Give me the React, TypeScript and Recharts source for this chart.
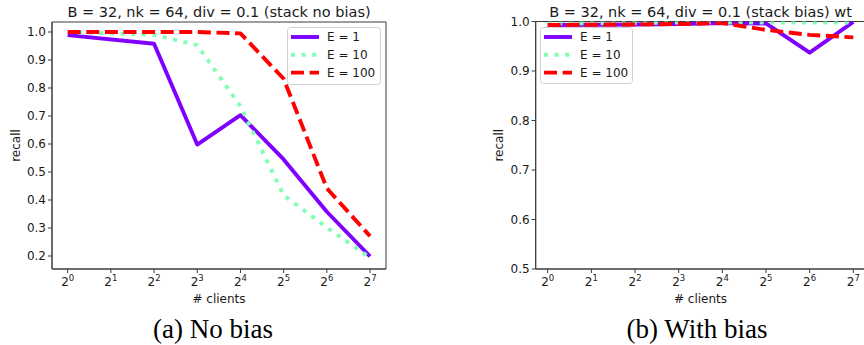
import React from "react";
import {
  LineChart,
  Line,
  XAxis,
  YAxis,
  ReferenceArea,
  Legend,
  Label,
} from "recharts";

// ---------- data ----------
const clients = [1, 4, 8, 16, 32, 64, 128];
const xTickExponents = [0, 1, 2, 3, 4, 5, 6, 7];

const noBiasE1 = [0.989, 0.958, 0.598, 0.703, 0.545, 0.358, 0.199];
const noBiasE10 = [1.0, 0.99, 0.953, 0.735, 0.417, 0.302, 0.194];
const noBiasE100 = [1.0, 1.0, 1.0, 0.995, 0.833, 0.442, 0.271];

const biasE1 = [0.993, 0.994, 0.995, 0.997, 0.996, 0.937, 0.999];
const biasE10 = [0.996, 0.997, 0.998, 0.998, 0.998, 0.998, 0.998];
const biasE100 = [0.993, 0.994, 0.995, 0.997, 0.983, 0.973, 0.968];

const yTicksLeft = [0.2, 0.3, 0.4, 0.5, 0.6, 0.7, 0.8, 0.9, 1.0];
const yTicksRight = [0.5, 0.6, 0.7, 0.8, 0.9, 1.0];

const titleLeft = "B = 32, nk = 64, div = 0.1 (stack no bias)";
const titleRight = "B = 32, nk = 64, div = 0.1 (stack bias) wt";
const captionLeft = "(a) No bias";
const captionRight = "(b) With bias";
const xLabel = "# clients";
const yLabel = "recall";

const seriesNames = ["E = 1", "E = 10", "E = 100"];
const seriesKeys = ["e1", "e10", "e100"];
const seriesColors = ["#8000ff", "#80ffb4", "#ff0000"];
const seriesDash = [undefined, "4 6.6", "13 5.6"];

const buildTable = (a: number[], b: number[], c: number[]) =>
  clients.map((n, i) => ({ x: Math.log2(n), e1: a[i], e10: b[i], e100: c[i] }));

const leftData = buildTable(noBiasE1, noBiasE10, noBiasE100);
const rightData = buildTable(biasE1, biasE10, biasE100);

const FONT = "DejaVu Sans";
const TXT = "#1a1a1a";
const SPINE = "#3a3a3a";
const LW = 3.9;

const PowTick = (props: any) => {
  const { x, y, payload } = props;
  return (
    <text
      x={x}
      y={y}
      dy={11}
      textAnchor="middle"
      fontFamily={FONT}
      fontSize={12}
      fill={TXT}
    >
      <tspan>2</tspan>
      <tspan dy={-5} fontSize={8.5}>
        {String(payload.value)}
      </tspan>
    </text>
  );
};

const LegendBox = ({ width, height }: { width: number; height: number }) => (
  <svg width={width} height={height} style={{ display: "block" }}>
    <rect
      x={0.5}
      y={0.5}
      width={width - 1}
      height={height - 1}
      rx={3}
      ry={3}
      fill="#ffffff"
      fillOpacity={0.8}
      stroke="#d0d0d0"
      strokeWidth={1}
    />
    {seriesNames.map((name, i) => {
      const cy = 10 + i * 17.8;
      return (
        <g key={name}>
          <line
            x1={4}
            x2={32}
            y1={cy}
            y2={cy}
            stroke={seriesColors[i]}
            strokeWidth={LW}
            strokeDasharray={seriesDash[i]}
          />
          <text
            x={40}
            y={cy + 4.3}
            fontFamily={FONT}
            fontSize={12}
            fill={TXT}
          >
            {name}
          </text>
        </g>
      );
    })}
  </svg>
);

type PanelProps = {
  data: any[];
  left: number;
  width: number;
  height: number;
  margin: { top: number; right: number; bottom: number; left: number };
  yAxisWidth: number;
  yLabelX: number;
  xDomain: [number, number];
  yDomain: [number, number];
  yTicks: number[];
  title: string;
  legendPos: { left: number; top: number; width: number; height: number };
};

const Panel = (p: PanelProps) => (
  <div style={{ position: "absolute", left: p.left, top: 0 }}>
    <LineChart width={p.width} height={p.height} data={p.data} margin={p.margin}>
      <XAxis
        type="number"
        dataKey="x"
        domain={p.xDomain}
        ticks={xTickExponents}
        allowDataOverflow
        tick={<PowTick />}
        tickSize={4}
        tickMargin={2}
        height={31}
        stroke={SPINE}
        tickLine={{ stroke: SPINE }}
        axisLine={{ stroke: SPINE }}
        interval={0}
      >
        <Label
          value={xLabel}
          position="insideBottom"
          offset={-3}
          style={{ fontFamily: FONT, fontSize: 12, fill: TXT }}
        />
      </XAxis>
      <YAxis
        type="number"
        domain={p.yDomain}
        ticks={p.yTicks}
        allowDataOverflow
        width={p.yAxisWidth}
        tickFormatter={(v: number) => v.toFixed(1)}
        tick={{ fontFamily: FONT, fontSize: 12, fill: TXT }}
        tickSize={4}
        tickMargin={2}
        stroke={SPINE}
        tickLine={{ stroke: SPINE }}
        axisLine={{ stroke: SPINE }}
        interval={0}
      >
        <Label
          value={yLabel}
          angle={-90}
          position="insideLeft"
          offset={p.yLabelX}
          style={{ fontFamily: FONT, fontSize: 12, fill: TXT, textAnchor: "middle" }}
        />
      </YAxis>
      <ReferenceArea
        x1={p.xDomain[0]}
        x2={p.xDomain[1]}
        y1={p.yDomain[0]}
        y2={p.yDomain[1]}
        fill="none"
        stroke={SPINE}
        strokeWidth={1}
        ifOverflow="visible"
      >
        <Label
          value={p.title}
          position="top"
          offset={5}
          style={{ fontFamily: FONT, fontSize: 14.5, fill: TXT }}
        />
      </ReferenceArea>
      {seriesKeys.map((k, i) => (
        <Line
          key={k}
          type="linear"
          dataKey={k}
          name={seriesNames[i]}
          stroke={seriesColors[i]}
          strokeWidth={LW}
          strokeDasharray={seriesDash[i]}
          strokeLinecap="butt"
          strokeLinejoin="round"
          dot={false}
          activeDot={false}
          isAnimationActive={false}
        />
      ))}
      <Legend
        layout="horizontal"
        verticalAlign="middle"
        align="center"
        wrapperStyle={{
          position: "absolute",
          left: p.legendPos.left,
          top: p.legendPos.top,
          width: p.legendPos.width,
          height: p.legendPos.height,
          margin: 0,
          padding: 0,
        }}
        content={() => (
          <LegendBox width={p.legendPos.width} height={p.legendPos.height} />
        )}
      />
    </LineChart>
  </div>
);

const captionStyle: React.CSSProperties = {
  position: "absolute",
  width: 240,
  top: 314,
  textAlign: "center",
  fontFamily: "Liberation Serif",
  fontSize: 27,
  lineHeight: "30px",
  color: "#000",
  whiteSpace: "nowrap",
};

export default function App() {
  return (
    <div
      style={{
        position: "absolute",
        left: 0,
        top: 0,
        width: 864,
        height: 345,
        overflow: "hidden",
        background: "#ffffff",
      }}
    >
      <Panel
        data={leftData}
        left={0}
        width={400}
        height={310}
        margin={{ top: 22, right: 14, bottom: 10, left: 0 }}
        yAxisWidth={52}
        yLabelX={16}
        xDomain={[-0.363, 7.37]}
        yDomain={[0.1536, 1.0357]}
        yTicks={yTicksLeft}
        title={titleLeft}
        legendPos={{ left: 287, top: 27, width: 94, height: 58 }}
      />
      <Panel
        data={rightData}
        left={440}
        width={440}
        height={310}
        margin={{ top: 21.5, right: 14.7, bottom: 10, left: 0 }}
        yAxisWidth={95.7}
        yLabelX={59}
        xDomain={[-0.275, 7.275]}
        yDomain={[0.5, 1.0]}
        yTicks={yTicksRight}
        title={titleRight}
        legendPos={{ left: 100, top: 27, width: 93, height: 57 }}
      />
      <div style={{ ...captionStyle, left: 213 - 120 }}>{captionLeft}</div>
      <div style={{ ...captionStyle, left: 697 - 120 }}>{captionRight}</div>
    </div>
  );
}
